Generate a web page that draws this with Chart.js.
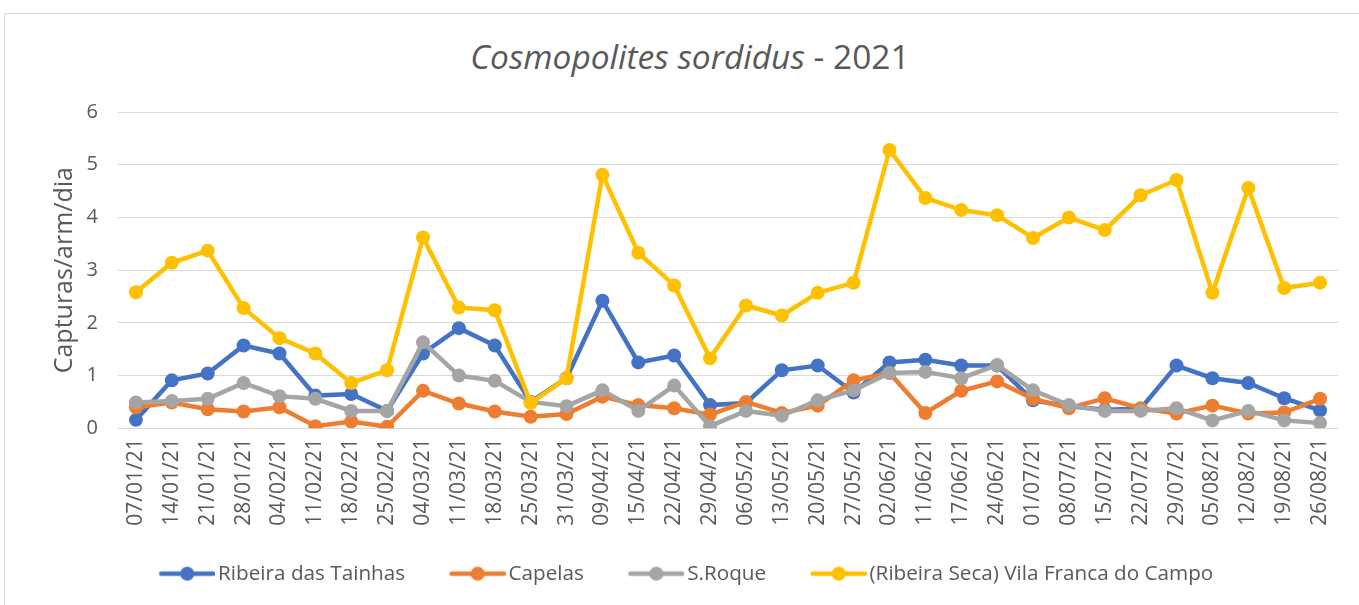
<!DOCTYPE html>
<html><head><meta charset="utf-8">
<script src="https://cdn.jsdelivr.net/npm/chart.js@4.4.1/dist/chart.umd.min.js"></script>
<style>
html,body{margin:0;padding:0;background:#fff;}
#wrap{position:relative;width:1359px;height:605px;overflow:hidden;background:#fff;}
#frame{position:absolute;left:4px;top:13px;width:1400px;height:700px;border:1px solid #d9d9d9;box-sizing:border-box;}
#title{position:absolute;left:0;width:1380px;top:35px;text-align:center;font-family:'Open Sans',sans-serif;font-size:33.5px;color:#595959;line-height:42px;}
canvas{position:absolute;left:0;top:0;}
</style></head>
<body><div id="wrap"><div id="frame"></div><div id="title"><i>Cosmopolites sordidus</i> - 2021</div><canvas id="c" width="1359" height="605"></canvas></div>
<script>
const categories = ['07/01/21','14/01/21','21/01/21','28/01/21','04/02/21','11/02/21','18/02/21','25/02/21','04/03/21','11/03/21','18/03/21','25/03/21','31/03/21','09/04/21','15/04/21','22/04/21','29/04/21','06/05/21','13/05/21','20/05/21','27/05/21','02/06/21','11/06/21','17/06/21','24/06/21','01/07/21','08/07/21','15/07/21','22/07/21','29/07/21','05/08/21','12/08/21','19/08/21','26/08/21'];
const ribeiraTainhas = [0.16,0.91,1.04,1.57,1.42,0.62,0.65,0.33,1.42,1.90,1.57,0.50,0.95,2.42,1.25,1.38,0.44,0.48,1.10,1.19,0.68,1.25,1.30,1.19,1.19,0.53,0.42,0.35,0.37,1.19,0.95,0.86,0.57,0.34];
const capelas = [0.40,0.49,0.36,0.32,0.40,0.04,0.13,0.03,0.71,0.47,0.32,0.22,0.27,0.60,0.44,0.38,0.26,0.50,0.29,0.43,0.91,1.05,0.29,0.71,0.89,0.56,0.38,0.57,0.38,0.28,0.43,0.28,0.30,0.56];
const sRoque = [0.49,0.52,0.56,0.86,0.61,0.56,0.33,0.33,1.63,1.00,0.90,0.50,0.42,0.72,0.33,0.81,0.04,0.33,0.24,0.53,0.72,1.05,1.07,0.95,1.20,0.72,0.44,0.33,0.33,0.38,0.15,0.33,0.15,0.10];
const vilaFranca = [2.58,3.14,3.37,2.28,1.71,1.42,0.86,1.10,3.62,2.29,2.24,0.48,0.95,4.81,3.33,2.71,1.33,2.33,2.14,2.57,2.76,5.28,4.37,4.14,4.04,3.61,4.00,3.76,4.42,4.71,2.57,4.56,2.66,2.76];
const seriesNames = ['Ribeira das Tainhas','Capelas','S.Roque','(Ribeira Seca) Vila Franca do Campo'];
const yTicks = [0,1,2,3,4,5,6];

const colors = ['#4472C4','#ED7D31','#A5A5A5','#FFC000'];
const values = [ribeiraTainhas, capelas, sRoque, vilaFranca];
const FONT = "'Open Sans'";
const TXT = '#595959';

// legend marker: transparent lead-in on the left, then line + dot
function marker(color){
  const c = document.createElement('canvas');
  c.width = 98; c.height = 18;
  const x = c.getContext('2d');
  x.strokeStyle = color; x.lineWidth = 4.5; x.lineCap='round';
  x.beginPath(); x.moveTo(44,9); x.lineTo(96,9); x.stroke();
  x.fillStyle = color; x.beginPath(); x.arc(70,9,7,0,Math.PI*2); x.fill();
  return c;
}
const markers = colors.map(marker);

const datasets = values.map((v,i)=>({
  label: seriesNames[i],
  data: v,
  borderColor: colors[i],
  backgroundColor: colors[i],
  borderWidth: 4.5,
  pointRadius: 7,
  pointBorderWidth: 0,
  pointBackgroundColor: colors[i],
  tension: 0,
  order: 3 - i
}));

new Chart(document.getElementById('c'), {
  type: 'line',
  data: { labels: categories, datasets },
  options: {
    responsive: false,
    animation: false,
    layout: { padding: { top: 112, left: 0, right: 21, bottom: 11 } },
    plugins: {
      tooltip: { enabled: false },
      title: { display: false },
      legend: {
        position: 'bottom',
        labels: {
          usePointStyle: true,
          pointStyleWidth: 83,
          padding: 10,
          color: TXT,
          font: { family: FONT, size: 20.7 },
          sort: (a,b)=>a.datasetIndex-b.datasetIndex,
          generateLabels(chart){
            const items = Chart.defaults.plugins.legend.labels.generateLabels(chart);
            items.forEach((it)=>{ it.pointStyle = markers[it.datasetIndex]; });
            return items;
          }
        }
      }
    },
    scales: {
      x: {
        offset: true,
        grid: { display: false, drawTicks: false },
        border: { display: false },
        ticks: { autoSkip: false, maxRotation: 90, minRotation: 90, padding: 10, color: TXT, font: { family: FONT, size: 21 } },
        afterFit(s){ s.height = 125; }
      },
      y: {
        min: 0, max: 6,
        afterBuildTicks(s){ s.ticks = yTicks.map(v=>({value:v})); },
        grid: { color: '#d9d9d9', lineWidth: 1, drawTicks: false },
        border: { display: false },
        ticks: { padding: 20, color: TXT, font: { family: FONT, size: 20 } },
        title: { display: true, text: 'Capturas/arm/dia', color: TXT, font: { family: FONT, size: 25 }, padding: { top: 50, bottom: 0 } },
        afterFit(s){ s.width = 118; }
      }
    }
  }
});
</script>
</body></html>
